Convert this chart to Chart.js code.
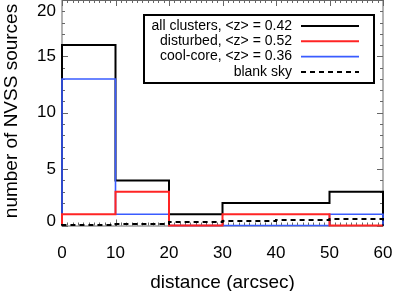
<!DOCTYPE html>
<html lang="en">
<head>
  <meta charset="UTF-8" />
  <title>NVSS sources vs distance</title>
  <script src="https://cdn.jsdelivr.net/npm/chart.js"></script>
  <style>
    body { margin: 0; background: #fff; }
    #wrap { width: 393px; height: 291px; }
  </style>
</head>
<body>
<div id="wrap"><canvas id="grafico"></canvas></div>

<script>
  // bin edges (arcsec) and counts per bin
  const binEdges = [0, 10, 20, 30, 40, 50, 60];
  const allClusters = [16, 4, 1, 2, 2, 3];
  const disturbed = [1, 3, 0, 1, 1, 0];
  const coolCore = [13, 1, 0, 0, 0, 1];
  const blankSky = [0.05, 0.14, 0.3, 0.41, 0.48, 0.58];

  const seriesLabels = ['all clusters, <z> = 0.42', 'disturbed, <z> = 0.52', 'cool-core, <z> = 0.36', 'blank sky'];
  const xTicks = [0, 10, 20, 30, 40, 50, 60];
  const yTicks = [0, 5, 10, 15, 20];

  const FONT = "'Liberation Sans', Arial, sans-serif";

  // histogram outline: up from 0, steps, down to 0 at the end
  function histo(vals) {
    const pts = [{ x: binEdges[0], y: 0 }];
    vals.forEach((v, i) => pts.push({ x: binEdges[i], y: v }));
    pts.push({ x: binEdges[vals.length], y: vals[vals.length - 1] });
    pts.push({ x: binEdges[vals.length], y: 0 });
    return pts;
  }

  const styles = [
    { color: '#000000', width: 2, dash: [] },
    { color: '#ff2424', width: 2, dash: [] },
    { color: '#3a5cff', width: 1.6, dash: [] },
    { color: '#000000', width: 2, dash: [5, 4] }
  ];

  // frame + inward ticks, drawn under the data
  const framePlugin = {
    id: 'frame',
    beforeDatasetsDraw(chart) {
      const { ctx, chartArea: a, scales: { x, y } } = chart;
      ctx.save();
      ctx.strokeStyle = '#666';
      ctx.lineWidth = 1;
      ctx.strokeRect(a.left, a.top + 0.5, a.right - a.left, a.bottom - a.top);
      ctx.beginPath();
      for (let v = 0; v <= 60; v += 1) {
        const px = Math.round(x.getPixelForValue(v)) + 0.5;
        const len = v % 10 === 0 ? 6 : 3;
        ctx.moveTo(px, a.bottom); ctx.lineTo(px, a.bottom - len);
        ctx.moveTo(px, a.top); ctx.lineTo(px, a.top + len);
      }
      for (let v = 0; v <= 20; v += 1) {
        const py = Math.round(y.getPixelForValue(v)) + 0.5;
        const len = v % 5 === 0 ? 6 : 3;
        ctx.moveTo(a.left, py); ctx.lineTo(a.left + len, py);
        ctx.moveTo(a.right, py); ctx.lineTo(a.right - len, py);
      }
      ctx.stroke();
      ctx.restore();
    },
    afterDraw(chart) {
      const { ctx, chartArea: a, scales: { x, y } } = chart;
      ctx.save();
      ctx.fillStyle = '#000';

      // tick labels
      ctx.font = '17px ' + FONT;
      ctx.textAlign = 'center';
      ctx.textBaseline = 'middle';
      xTicks.forEach(v => ctx.fillText(String(v), x.getPixelForValue(v), a.bottom + 28));
      ctx.textAlign = 'right';
      yTicks.forEach(v => {
        let py = y.getPixelForValue(v);
        py = Math.min(Math.max(py, a.top + 11), a.bottom - 4);
        ctx.fillText(String(v), a.left - 6, py);
      });

      // axis titles
      ctx.font = '19px ' + FONT;
      ctx.textAlign = 'center';
      ctx.fillText('distance (arcsec)', (a.left + a.right) / 2, a.bottom + 57);
      ctx.save();
      ctx.translate(12, 111);
      ctx.rotate(-Math.PI / 2);
      ctx.fillText('number of NVSS sources', 0, 0);
      ctx.restore();

      // legend box
      const bx = 144, by = 15, bw = 230, bh = 68;
      ctx.fillStyle = '#fff';
      ctx.fillRect(bx, by, bw, bh);
      ctx.strokeStyle = '#000';
      ctx.lineWidth = 2;
      ctx.strokeRect(bx, by, bw, bh);
      ctx.font = '14px ' + FONT;
      ctx.textAlign = 'right';
      ctx.fillStyle = '#000';
      seriesLabels.forEach((lab, i) => {
        const ry = by + 11 + i * 15.3;
        ctx.fillText(lab, 292, ry);
        ctx.strokeStyle = styles[i].color;
        ctx.lineWidth = styles[i].width;
        ctx.setLineDash(styles[i].dash);
        ctx.beginPath();
        ctx.moveTo(301, ry); ctx.lineTo(359, ry);
        ctx.stroke();
        ctx.setLineDash([]);
      });
      ctx.restore();
    }
  };

  const series = [allClusters, disturbed, coolCore, blankSky];
  const drawOrder = [3, 1, 2, 0]; // red over blue over black, dashed on top

  const ctx = document.getElementById('grafico').getContext('2d');
  new Chart(ctx, {
    type: 'line',
    data: {
      datasets: series.map((vals, i) => ({
        label: seriesLabels[i],
        data: histo(vals),
        stepped: 'before',
        borderColor: styles[i].color,
        borderWidth: styles[i].width,
        borderDash: styles[i].dash,
        pointRadius: 0,
        fill: false,
        clip: false,
        order: drawOrder[i]
      }))
    },
    options: {
      responsive: true,
      maintainAspectRatio: false,
      animation: false,
      layout: { autoPadding: false, padding: { left: 62, right: 10, top: 0, bottom: 65.5 } },
      plugins: { legend: { display: false }, tooltip: { enabled: false } },
      scales: {
        x: { type: 'linear', min: 0, max: 60, display: false },
        y: { type: 'linear', min: 0, max: 20, display: false }
      }
    },
    plugins: [framePlugin]
  });
</script>
</body>
</html>
